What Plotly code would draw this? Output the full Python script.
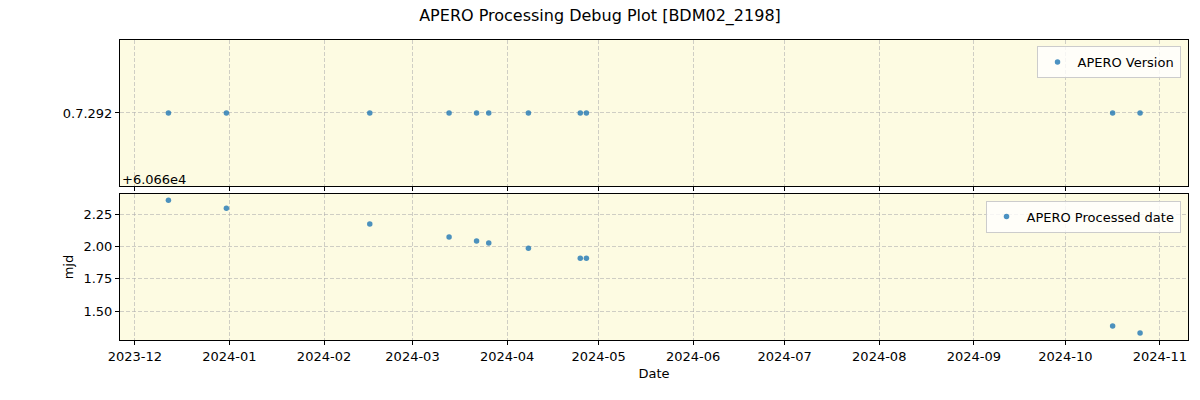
import plotly.graph_objects as go
from plotly.subplots import make_subplots

dates = ["2023-12-12", "2023-12-31", "2024-02-16", "2024-03-13", "2024-03-22",
         "2024-03-26", "2024-04-08", "2024-04-25", "2024-04-27", "2024-10-16 12:00",
         "2024-10-25 12:00"]
version = ["0.7.292"] * len(dates)
mjd = [60662.358, 60662.296, 60662.173, 60662.072, 60662.041, 60662.026,
       60661.986, 60661.909, 60661.909, 60661.384, 60661.330]
mjd_offset = 60660.0
mjd_ticks = [1.50, 1.75, 2.00, 2.25]

font = "DejaVu Sans"
bg = "#fdfbe2"
mcolor = "rgba(31,119,180,0.8)"
gridc = "rgba(176,176,176,0.6)"

fig = make_subplots(rows=2, cols=1, shared_xaxes=True, vertical_spacing=0.027)

fig.add_trace(go.Scatter(x=dates, y=version, mode="markers", name="APERO Version",
                         marker=dict(color=mcolor, size=5.5), legend="legend"),
              row=1, col=1)
fig.add_trace(go.Scatter(x=dates, y=[m - mjd_offset for m in mjd], mode="markers",
                         name="APERO Processed date",
                         marker=dict(color=mcolor, size=5.5), legend="legend2"),
              row=2, col=1)

axis_common = dict(showline=True, linecolor="black", linewidth=1, mirror=True,
                   ticks="outside", ticklen=4, tickcolor="black",
                   showgrid=True, gridcolor=gridc, griddash="4px,2px", gridwidth=1,
                   zeroline=False, tickfont=dict(family=font, size=13, color="black"))

xr = ["2023-11-26 03:00", "2024-11-10 05:00"]
fig.update_xaxes(**axis_common, type="date", range=xr, dtick="M1",
                 tick0="2023-12-01", tickformat="%Y-%m")
fig.update_xaxes(showticklabels=False, row=1, col=1)
fig.update_xaxes(title=dict(text="Date", font=dict(family=font, size=13, color="black"),
                            standoff=6), row=2, col=1)

fig.update_yaxes(**axis_common)
fig.update_yaxes(type="category", range=[-1, 1], row=1, col=1)
fig.update_yaxes(range=[1.276, 2.405], tickvals=mjd_ticks, tickformat=".2f",
                 title=dict(text="mjd", font=dict(family=font, size=13, color="black"),
                            standoff=6),
                 row=2, col=1)

fig.add_annotation(text="+6.066e4", xref="paper", yref="paper", x=0, y=0.5135,
                   xanchor="left", yanchor="bottom", showarrow=False,
                   font=dict(family=font, size=13, color="black"), yshift=-3)

legend_common = dict(bgcolor="rgba(255,255,255,0.8)", bordercolor="#cccccc", borderwidth=1,
                     font=dict(family=font, size=13, color="black"),
                     xanchor="right", yanchor="top", itemwidth=30,
                     tracegroupgap=0)
fig.update_layout(
    legend=dict(**legend_common, x=0.993, y=0.98),
    legend2=dict(**legend_common, x=0.993, y=0.465),
)

fig.update_layout(
    width=1200, height=400,
    margin=dict(l=120, r=12, t=40, b=60),
    paper_bgcolor="white", plot_bgcolor=bg,
    title=dict(text="APERO Processing Debug Plot [BDM02_2198]", x=0.5, xanchor="center",
               y=0.962, yanchor="middle",
               font=dict(family=font, size=16, color="black")),
    showlegend=True,
)

fig.write_html("out.html", config={"displayModeBar": False},
               post_script="document.body.style.margin='0px';document.body.style.padding='0px';")
